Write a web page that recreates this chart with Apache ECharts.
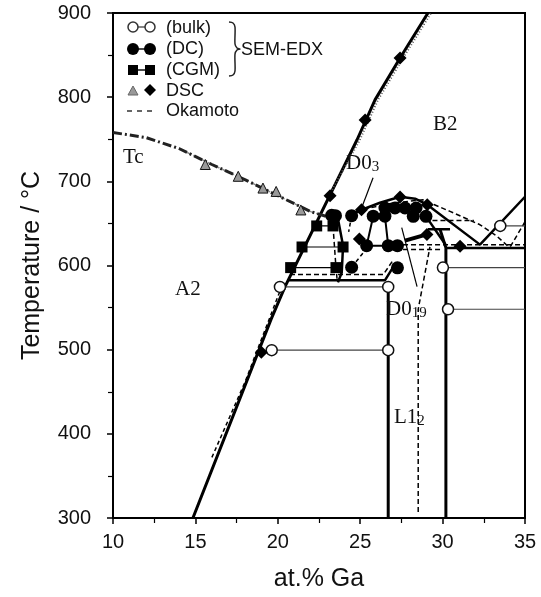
<!DOCTYPE html>
<html>
<head>
<meta charset="utf-8">
<script src="https://cdn.jsdelivr.net/npm/echarts@6/dist/echarts.min.js"></script>
<style>
html, body { margin: 0; padding: 0; background: #fff; }
#chart { width: 541px; height: 597px; }
</style>
</head>
<body>
<div id="chart"></div>
<script>
// axes
var xRange = [10, 35];
var yRange = [300, 900];

// solid phase boundaries
var a2b2Line = [[14.85, 300], [19.59, 536], [20.44, 575], [24.81, 749.4], [25.9, 796.8], [27.42, 846.6], [29.11, 900]];
var a2b2Hatch = [[23.3, 690], [24.98, 749.4], [26.08, 796.8], [27.6, 846.6], [29.3, 900]];
var tcLine = [[10, 758], [12, 752], [14, 739], [16, 720], [18, 702], [20, 683], [22, 664], [23.5, 655]];
var d03Dome = [[24.5, 661], [25.1, 666.2], [26.2, 674.6], [27.42, 681.7], [28.33, 679.4], [29.07, 672.2], [32.27, 624.8], [35, 681.7]];
var d03Left = [[23.65, 655.5], [23.96, 623.5], [23.88, 591.7], [23.65, 580]];
var eutectoid = [[20.6, 582.4], [26.5, 582.4], [27.0, 598]];
var l12Left = [[26.7, 300], [26.7, 574.6]];
var l12Right = [[30.2, 300], [30.2, 621], [29.84, 643.2]];
var step643 = [[29.11, 643.2], [30.45, 643.2]];
var line620 = [[30.25, 620.9], [35, 620.9]];
var d019Slope = [[28.99, 658.4], [30.2, 624]];
var d019Band = [[27.72, 629.5], [29.05, 637]];

// Okamoto (dashed)
var okaA2 = [[16.0, 372], [18.0, 461], [20.1, 568]];
var okaTc = [[14, 739], [16, 720], [18, 702], [20, 683], [22, 664], [23.3, 656]];
var okaDome = [[24.3, 660], [25.5, 668], [26.99, 674.3], [28.81, 678], [30.45, 664.3], [32.27, 648.4], [33.3, 634.7], [33.97, 622.8]];
var okaRight = [[35, 652], [34.1, 622]];
var okaInner = [[28.9, 653.6], [31.9, 653.6]];
var okaL12 = [[28.52, 307], [28.52, 548], [29.23, 622]];
var oka625 = [[27.6, 624.8], [35, 624.8]];
var oka619 = [[27.6, 618.9], [30.0, 618.9]];
var okaRect = [[20.74, 589.2], [26.4, 589.2], [26.95, 605]];
var okaSq = [[23.35, 647], [23.53, 597.5], [23.6, 583]];

// SEM-EDX bulk (open circles) tie lines
var bulk575 = [[20.13, 574.6], [26.7, 574.6]];
var bulk500 = [[19.63, 499.4], [26.7, 499.4]];
var bulk647 = [[33.5, 647], [35, 647]];
var bulk598 = [[30.02, 597.5], [35, 597.5]];
var bulk548 = [[30.33, 548], [35, 548]];

// SEM-EDX DC (filled circles)
var dcPoints = [[23.27, 659.6], [23.5, 659.2], [24.48, 659.2], [25.79, 658.6], [26.5, 658.6], [26.5, 668.3], [27.11, 668.3],
  [27.72, 668.3], [28.39, 668.3], [28.22, 658.4], [28.99, 658.4], [25.39, 623.6], [26.7, 623.6], [27.26, 623.6],
  [24.48, 597.9], [27.26, 597.2]];
var dcTieA = [[25.79, 658.6], [25.39, 623.6], [26.7, 623.6], [26.5, 658.6]];
var dcTieB = [[24.48, 597.9], [25.3, 618]];
var dcTieC = [[24.48, 659.2], [24.3, 640]];

// SEM-EDX CGM (squares)
var cgmPoints = [[22.36, 647], [23.35, 647], [21.47, 622], [23.96, 622], [20.78, 597.5], [23.53, 597.5]];
var cgmTie647 = [[22.36, 647], [23.35, 647]];
var cgmTie622 = [[21.47, 622], [23.96, 622]];
var cgmTie598 = [[20.78, 597.5], [23.53, 597.5]];

// DSC
var dscTriangles = [[15.6, 720], [17.6, 706], [19.1, 692], [19.9, 688], [21.4, 666]];
var dscDiamonds = [[27.42, 846.6], [25.3, 773], [23.17, 683], [25.08, 666.3], [27.42, 681.4], [29.07, 672.2],
  [24.95, 631.5], [29.05, 636.7], [31.06, 622.8], [19.0, 497]];

// label pointers
var ptrD03 = [[25.78, 704.3], [25.09, 668.7]];
var ptrD019 = [[28.45, 575], [27.52, 645]];

var chart = echarts.init(document.getElementById('chart'));

function seg(data, w, type, color, z) {
  return { type: 'line', data: data, symbol: 'none', silent: true, z: z || 2,
    lineStyle: { width: w, type: type || 'solid', color: color || '#000' } };
}
function pts(data, symbol, size, fill, bw) {
  return { type: 'scatter', data: data, symbol: symbol, symbolSize: size, silent: true, z: 6,
    itemStyle: { color: fill, opacity: 1, borderColor: '#111', borderWidth: bw || 0 } };
}

var sans = 'Liberation Sans';
var serif = 'Liberation Serif';
function phase(x, y, main, sub) {
  var t = sub ? '{a|' + main + '}{s|' + sub + '}' : '{a|' + main + '}';
  return { type: 'text', x: x, y: y, z: 20,
    style: { text: t, rich: { a: { fontFamily: serif, fontSize: 21, fill: '#111' },
      s: { fontFamily: serif, fontSize: 15, fill: '#111', padding: [9, 0, 0, 0] } } } };
}
function ltxt(x, y, s) {
  return { type: 'text', x: x, y: y, z: 20, style: { text: s, fontFamily: sans, fontSize: 18, fill: '#111', verticalAlign: 'middle' } };
}

chart.setOption({
  animation: false,
  grid: { left: 113, right: 16, top: 13, bottom: 78, show: true, borderColor: '#000', borderWidth: 2 },
  xAxis: {
    type: 'value', min: xRange[0], max: xRange[1], interval: 5,
    name: 'at.% Ga', nameLocation: 'middle', nameGap: 49,
    nameTextStyle: { fontFamily: sans, fontSize: 25, color: '#111' },
    axisLine: { lineStyle: { color: '#000', width: 2 } },
    axisTick: { length: 6, lineStyle: { color: '#000', width: 1.5 } },
    minorTick: { show: true, splitNumber: 2, length: 5, lineStyle: { color: '#000', width: 1.2 } },
    splitLine: { show: false },
    axisLabel: { fontFamily: sans, fontSize: 20, color: '#111', margin: 14 }
  },
  yAxis: {
    type: 'value', min: yRange[0], max: yRange[1], interval: 100,
    name: 'Temperature / °C', nameLocation: 'middle', nameGap: 68,
    nameTextStyle: { fontFamily: sans, fontSize: 25, color: '#111' },
    axisLine: { lineStyle: { color: '#000', width: 2 } },
    axisTick: { length: 6, lineStyle: { color: '#000', width: 1.5 } },
    minorTick: { show: true, splitNumber: 2, length: 5, lineStyle: { color: '#000', width: 1.2 } },
    splitLine: { show: false },
    axisLabel: { fontFamily: sans, fontSize: 20, color: '#111', margin: 22 }
  },
  series: [
    seg(a2b2Line, 3),
    seg(a2b2Hatch, 2, [1, 2], '#555'),
    seg(okaTc, 1.5, [5, 3], '#888'),
    seg(tcLine, 3, [9, 3, 2, 3], '#222'),
    seg(d03Dome, 2.5),
    seg(d03Left, 2.5),
    seg(eutectoid, 2.5),
    seg(l12Left, 3),
    seg(l12Right, 3),
    seg(step643, 2.5),
    seg(line620, 2.5),
    seg(d019Slope, 2.5),
    seg(d019Band, 4),
    seg(okaA2, 1.5, [4, 3]),
    seg(okaDome, 1.5, [5, 3]),
    seg(okaRight, 1.5, [5, 3]),
    seg(okaInner, 1.5, [5, 3]),
    seg(okaL12, 1.5, [5, 3]),
    seg(oka625, 1.5, [5, 3]),
    seg(oka619, 1.5, [5, 3]),
    seg(okaRect, 1.5, [5, 3]),
    seg(okaSq, 1.5, [5, 3]),
    seg(bulk575, 1.2, 'solid', '#444'),
    seg(bulk500, 1.2, 'solid', '#444'),
    seg(bulk647, 1.2, 'solid', '#444'),
    seg(bulk598, 1.2, 'solid', '#444'),
    seg(bulk548, 1.2, 'solid', '#444'),
    seg(dcTieA, 2),
    seg(dcTieB, 1.5, [4, 3]),
    seg(dcTieC, 1.5, [4, 3]),
    seg(cgmTie647, 1.2),
    seg(cgmTie622, 1.2),
    seg(cgmTie598, 1.2),
    seg(ptrD03, 1.2),
    seg(ptrD019, 1.2),
    pts([bulk575[0], bulk575[1], bulk500[0], bulk500[1], bulk647[0], bulk598[0], bulk548[0]], 'circle', 11, '#fff', 1.5),
    pts(dcPoints, 'circle', 13, '#000'),
    pts(cgmPoints, 'rect', 11, '#000'),
    pts(dscTriangles, 'triangle', 10, '#999', 1),
    pts(dscDiamonds, 'diamond', 13, '#000')
  ],
  graphic: [
    // legend
    { type: 'line', shape: { x1: 133, y1: 27, x2: 150, y2: 27 }, style: { stroke: '#333', lineWidth: 1.2 }, z: 19 },
    { type: 'circle', shape: { cx: 133, cy: 27, r: 5 }, style: { fill: '#fff', stroke: '#333', lineWidth: 1.5 }, z: 20 },
    { type: 'circle', shape: { cx: 150, cy: 27, r: 5 }, style: { fill: '#fff', stroke: '#333', lineWidth: 1.5 }, z: 20 },
    { type: 'line', shape: { x1: 133, y1: 49, x2: 150, y2: 49 }, style: { stroke: '#111', lineWidth: 1.5 }, z: 19 },
    { type: 'circle', shape: { cx: 133, cy: 49, r: 6 }, style: { fill: '#000' }, z: 20 },
    { type: 'circle', shape: { cx: 150, cy: 49, r: 6 }, style: { fill: '#000' }, z: 20 },
    { type: 'line', shape: { x1: 133, y1: 70, x2: 150, y2: 70 }, style: { stroke: '#111', lineWidth: 1.5 }, z: 19 },
    { type: 'rect', shape: { x: 128, y: 65, width: 10, height: 10 }, style: { fill: '#000' }, z: 20 },
    { type: 'rect', shape: { x: 145, y: 65, width: 10, height: 10 }, style: { fill: '#000' }, z: 20 },
    { type: 'polygon', shape: { points: [[133, 86], [138, 95], [128, 95]] }, style: { fill: '#999', stroke: '#666' }, z: 20 },
    { type: 'polygon', shape: { points: [[150, 84], [156, 90], [150, 96], [144, 90]] }, style: { fill: '#000' }, z: 20 },
    { type: 'line', shape: { x1: 127, y1: 111, x2: 156, y2: 111 }, style: { stroke: '#333', lineWidth: 1.5, lineDash: [5, 5] }, z: 20 },
    ltxt(166, 28, '(bulk)'),
    ltxt(166, 49, '(DC)'),
    ltxt(166, 70, '(CGM)'),
    ltxt(166, 91, 'DSC'),
    ltxt(166, 111, 'Okamoto'),
    { type: 'polyline', z: 20,
      shape: { points: [[229, 22], [233, 23], [235, 27], [235, 44], [237, 48], [240, 49], [237, 50], [235, 54], [235, 71], [233, 75], [229, 76]], smooth: 0.3 },
      style: { fill: 'none', stroke: '#222', lineWidth: 1.5 } },
    ltxt(241, 50, 'SEM-EDX'),
    // phase labels
    phase(123, 147, 'Tc'),
    phase(175, 279, 'A2'),
    phase(433, 114, 'B2'),
    phase(346, 151, 'D0', '3'),
    phase(386, 297, 'D0', '19'),
    phase(394, 405, 'L1', '2')
  ]
});
</script>
</body>
</html>
